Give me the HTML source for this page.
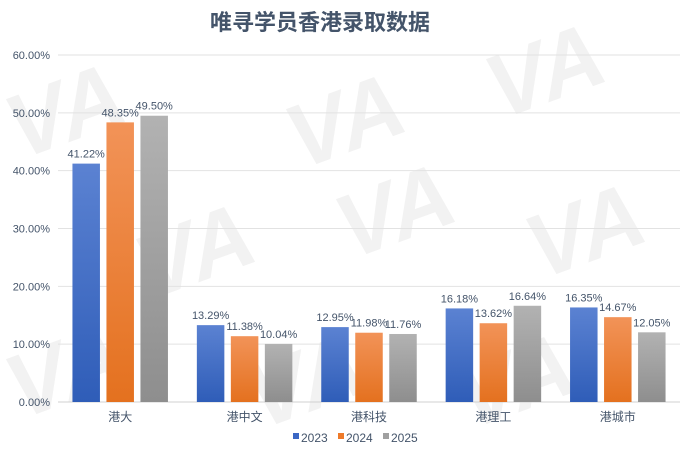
<!DOCTYPE html>
<html><head><meta charset="utf-8">
<style>
html,body{margin:0;padding:0;background:#fff;}
svg{display:block;font-family:"Liberation Sans","Noto Sans CJK SC",sans-serif;}
</style></head>
<body>
<svg id="chart" width="682" height="457" viewBox="0 0 682 457">
<defs>
<linearGradient id="gb" x1="0" y1="0" x2="0" y2="1"><stop offset="0" stop-color="#5b82d2"/><stop offset="1" stop-color="#2f5db8"/></linearGradient>
<linearGradient id="go" x1="0" y1="0" x2="0" y2="1"><stop offset="0" stop-color="#f29358"/><stop offset="1" stop-color="#e4711f"/></linearGradient>
<linearGradient id="gg" x1="0" y1="0" x2="0" y2="1"><stop offset="0" stop-color="#b2b2b2"/><stop offset="1" stop-color="#8e8e8e"/></linearGradient>
</defs>
<g id="wm" fill="#ececec" font-size="90" font-weight="bold" font-style="italic" opacity="0.7">
<text x="20" y="160" transform="rotate(-20 20 160)">VA</text>
<text x="300" y="170" transform="rotate(-20 300 170)">VA</text>
<text x="500" y="120" transform="rotate(-20 500 120)">VA</text>
<text x="150" y="300" transform="rotate(-20 150 300)">VA</text>
<text x="350" y="260" transform="rotate(-20 350 260)">VA</text>
<text x="540" y="280" transform="rotate(-20 540 280)">VA</text>
<text x="20" y="420" transform="rotate(-20 20 420)">VA</text>
<text x="260" y="430" transform="rotate(-20 260 430)">VA</text>
<text x="470" y="430" transform="rotate(-20 470 430)">VA</text>
</g>
<text x="320" y="30" text-anchor="middle" font-size="22" font-weight="bold" fill="#44546a">唯寻学员香港录取数据</text>
<g id="grid"></g>
<g id="bars"></g>
<g id="labels"></g>
<g id="legend" font-size="12" fill="#44546a">
<rect x="293" y="433" width="6" height="6" fill="#3b67c4"/><text x="301" y="442">2023</text>
<rect x="338" y="433" width="6" height="6" fill="#ee7a2a"/><text x="346" y="442">2024</text>
<rect x="383" y="433" width="6" height="6" fill="#a0a0a0"/><text x="391" y="442">2025</text>
</g>
</svg>
<script>
const categories=["港大","港中文","港科技","港理工","港城市"];
const s2023=[41.22,13.29,12.95,16.18,16.35];
const s2024=[48.35,11.38,11.98,13.62,14.67];
const s2025=[49.50,10.04,11.76,16.64,12.05];
const yTicks=[0,10,20,30,40,50,60];
const seriesNames=["2023","2024","2025"];
const NS="http://www.w3.org/2000/svg";
const x0=58,x1=680,y0=402,y1=55,yMax=60;
const step=(x1-x0)/categories.length;
function y(v){return y0-(v/yMax)*(y0-y1);}
function xc(i){return x0+step*(i+0.5);}
function mk(t,a,p){const e=document.createElementNS(NS,t);for(const k in a)e.setAttribute(k,a[k]);p.appendChild(e);return e;}
const grid=document.getElementById('grid'),bars=document.getElementById('bars'),labels=document.getElementById('labels');
yTicks.forEach(t=>{
  const l=mk('line',{x1:x0,x2:x1,y1:y(t),y2:y(t),stroke:t===0?'#d0d0d0':'#e2e2e2','stroke-width':1},grid);
  
  
  const tx=mk('text',{x:50,y:y(t)+4,'text-anchor':'end','font-size':11,fill:'#44546a'},grid);
  tx.textContent=t.toFixed(2)+'%';
  
  
});
const series=[s2023,s2024,s2025],fills=['url(#gb)','url(#go)','url(#gg)'];
const bw=27.5,gap=6.5;
categories.forEach((c,i)=>{
  series.forEach((s,j)=>{
    const bx=xc(i)-1.5*bw-gap+j*(bw+gap);
    const r=mk('rect',{x:bx,y:y(s[i]),width:bw,height:y0-y(s[i]),fill:fills[j]},bars);
    
    
    const t=mk('text',{x:bx+bw/2,y:y(s[i])-6,'text-anchor':'middle','font-size':11,fill:'#44546a'},labels);
    t.textContent=s[i].toFixed(2)+'%';
    
    
  });
  const ct=mk('text',{x:xc(i),y:421,'text-anchor':'middle','font-size':12,fill:'#44546a'},labels);
  ct.textContent=c;
  
  
});
</script>
</body></html>
